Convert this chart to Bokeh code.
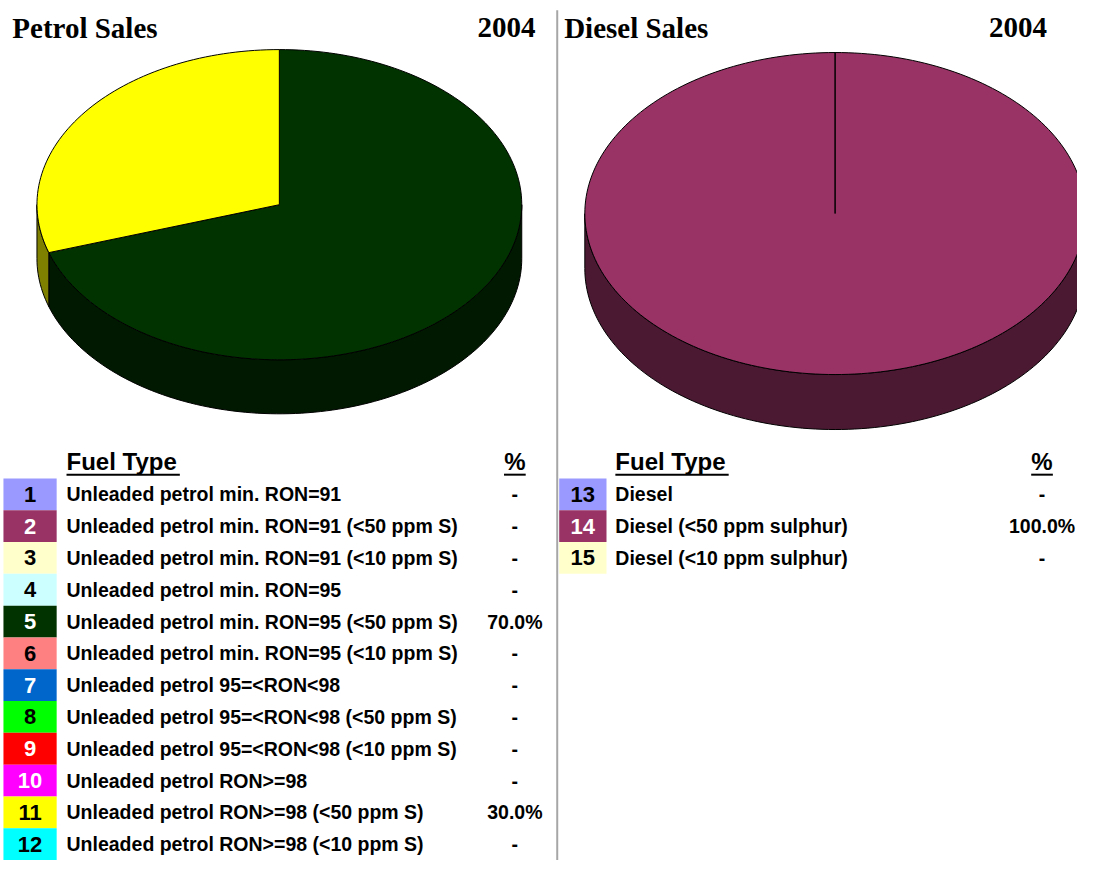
import numpy as np
from bokeh.plotting import figure
from bokeh.models import Range1d
from bokeh.embed import file_html
from bokeh.resources import INLINE
from bokeh.core.properties import value

# ---------------- data ----------------
year = "2004"
petrol_title = "Petrol Sales"
diesel_title = "Diesel Sales"
header_type = "Fuel Type"
header_pct = "%"

petrol_ids = [1, 2, 3, 4, 5, 6, 7, 8, 9, 10, 11, 12]
petrol_labels = [
    "Unleaded petrol min. RON=91",
    "Unleaded petrol min. RON=91 (<50 ppm S)",
    "Unleaded petrol min. RON=91 (<10 ppm S)",
    "Unleaded petrol min. RON=95",
    "Unleaded petrol min. RON=95 (<50 ppm S)",
    "Unleaded petrol min. RON=95 (<10 ppm S)",
    "Unleaded petrol 95=<RON<98",
    "Unleaded petrol 95=<RON<98 (<50 ppm S)",
    "Unleaded petrol 95=<RON<98 (<10 ppm S)",
    "Unleaded petrol RON>=98",
    "Unleaded petrol RON>=98 (<50 ppm S)",
    "Unleaded petrol RON>=98 (<10 ppm S)",
]
petrol_pct = [0, 0, 0, 0, 70.0, 0, 0, 0, 0, 0, 30.0, 0]
petrol_colors = ["#9999FF", "#993366", "#FFFFCC", "#CCFFFF", "#003300", "#FF8080",
                 "#0066CC", "#00FF00", "#FF0000", "#FF00FF", "#FFFF00", "#00FFFF"]
petrol_num_colors = ["black", "white", "black", "black", "white", "black",
                     "white", "black", "white", "white", "black", "black"]

diesel_ids = [13, 14, 15]
diesel_labels = ["Diesel", "Diesel (<50 ppm sulphur)", "Diesel (<10 ppm sulphur)"]
diesel_pct = [0, 100.0, 0]
diesel_colors = ["#9999FF", "#993366", "#FFFFCC"]
diesel_num_colors = ["black", "white", "black"]

# ---------------- helpers ----------------
SANS = value("Liberation Sans")
SERIF = value("Liberation Serif")


def darken(hexcol, f=0.5):
    h = hexcol.lstrip("#")
    r, g, b = (int(h[i:i + 2], 16) for i in (0, 2, 4))
    return "#%02X%02X%02X" % (int(r * f), int(g * f), int(b * f))


def pie3d(p, cx, cy, rx, ry, depth, values, colors):
    total = float(sum(values))
    slices = []
    start = 0.0
    for v, c in zip(values, colors):
        if v > 0:
            end = start + v / total * 2 * np.pi
            slices.append((start, end, c))
            start = end

    def arc(a0, a1, dy=0.0, n=240):
        t = np.linspace(a0, a1, max(int(n * (a1 - a0) / (2 * np.pi)) + 2, 3))
        return cx + rx * np.sin(t), cy - ry * np.cos(t) + dy

    # side walls (front half: pi/2 .. 3pi/2)
    for a0, a1, c in slices:
        lo, hi = max(a0, np.pi / 2), min(a1, 3 * np.pi / 2)
        if hi > lo:
            xt, yt = arc(lo, hi)
            xb, yb = arc(lo, hi, depth)
            xs = list(xt) + list(xb[::-1])
            ys = list(yt) + list(yb[::-1])
            p.patch(xs, ys, fill_color=darken(c), line_color="black", line_width=1)
    # top faces
    for a0, a1, c in slices:
        xa, ya = arc(a0, a1)
        xs = [cx] + list(xa)
        ys = [cy] + list(ya)
        p.patch(xs, ys, fill_color=c, line_color="black", line_width=1)


def fmt(v):
    return "%.1f%%" % v if v > 0 else "-"


def legend(p, ids, labels, pcts, colors, numcols, box_l, box_r, text_x, pct_x, y0, dy):
    ys = [y0 + i * dy for i in range(len(ids))]
    p.quad(left=box_l, right=box_r, top=[y - dy / 2 for y in ys], bottom=[y + dy / 2 for y in ys],
           fill_color=colors, line_color=None)
    p.text(x=[(box_l + box_r) / 2] * len(ids), y=ys, text=[str(i) for i in ids],
           text_color=numcols, text_font=SANS, text_font_style="bold",
           text_font_size="22px", text_align="center", text_baseline="middle")
    p.text(x=[text_x] * len(ids), y=ys, text=labels, text_color="black",
           text_font=SANS, text_font_style="bold", text_font_size="19.5px",
           text_align="left", text_baseline="middle")
    p.text(x=[pct_x] * len(ids), y=ys, text=[fmt(v) for v in pcts], text_color="black",
           text_font=SANS, text_font_style="bold", text_font_size="19.5px",
           text_align="center", text_baseline="middle")
    # headers
    hy = y0 - 33
    p.text(x=[text_x], y=[hy], text=[header_type], text_font=SANS, text_font_style="bold",
           text_font_size="24px", text_align="left", text_baseline="middle", text_color="black")
    p.text(x=[pct_x], y=[hy], text=[header_pct], text_font=SANS, text_font_style="bold",
           text_font_size="24px", text_align="center", text_baseline="middle", text_color="black")
    p.segment(x0=[text_x, pct_x - 11], y0=[hy + 13] * 2, x1=[text_x + 115, pct_x + 11],
              y1=[hy + 13] * 2, line_color="black", line_width=2)


# ---------------- figure ----------------
p = figure(width=1077, height=860, x_range=Range1d(0, 1093), y_range=Range1d(876, 0),
           output_backend="svg", toolbar_location=None, min_border=0)
p.axis.visible = False
p.grid.visible = False
p.outline_line_color = None
p.background_fill_color = "white"

# separator
p.segment(x0=[565], y0=[10], x1=[565], y1=[876], line_color="#A6A6A6", line_width=2)

# titles
p.text(x=[12, 572], y=[28, 28], text=[petrol_title, diesel_title], text_font=SERIF,
       text_font_style="bold", text_font_size="29px", text_align="left",
       text_baseline="middle", text_color="black")
p.text(x=[543, 1062], y=[28, 28], text=[year, year], text_font=SERIF,
       text_font_style="bold", text_font_size="29px", text_align="right",
       text_baseline="middle", text_color="black")

# pies
pie3d(p, 283, 208, 246, 158, 55, petrol_pct, petrol_colors)
pie3d(p, 847, 217, 254, 164, 56, diesel_pct, diesel_colors)

# legends
legend(p, petrol_ids, petrol_labels, petrol_pct, petrol_colors, petrol_num_colors,
       3, 57, 67, 522, 503, 32.4)
legend(p, diesel_ids, diesel_labels, diesel_pct, diesel_colors, diesel_num_colors,
       567, 615, 624, 1057, 503, 32.4)

open("out.html", "w").write(file_html(p, INLINE))
